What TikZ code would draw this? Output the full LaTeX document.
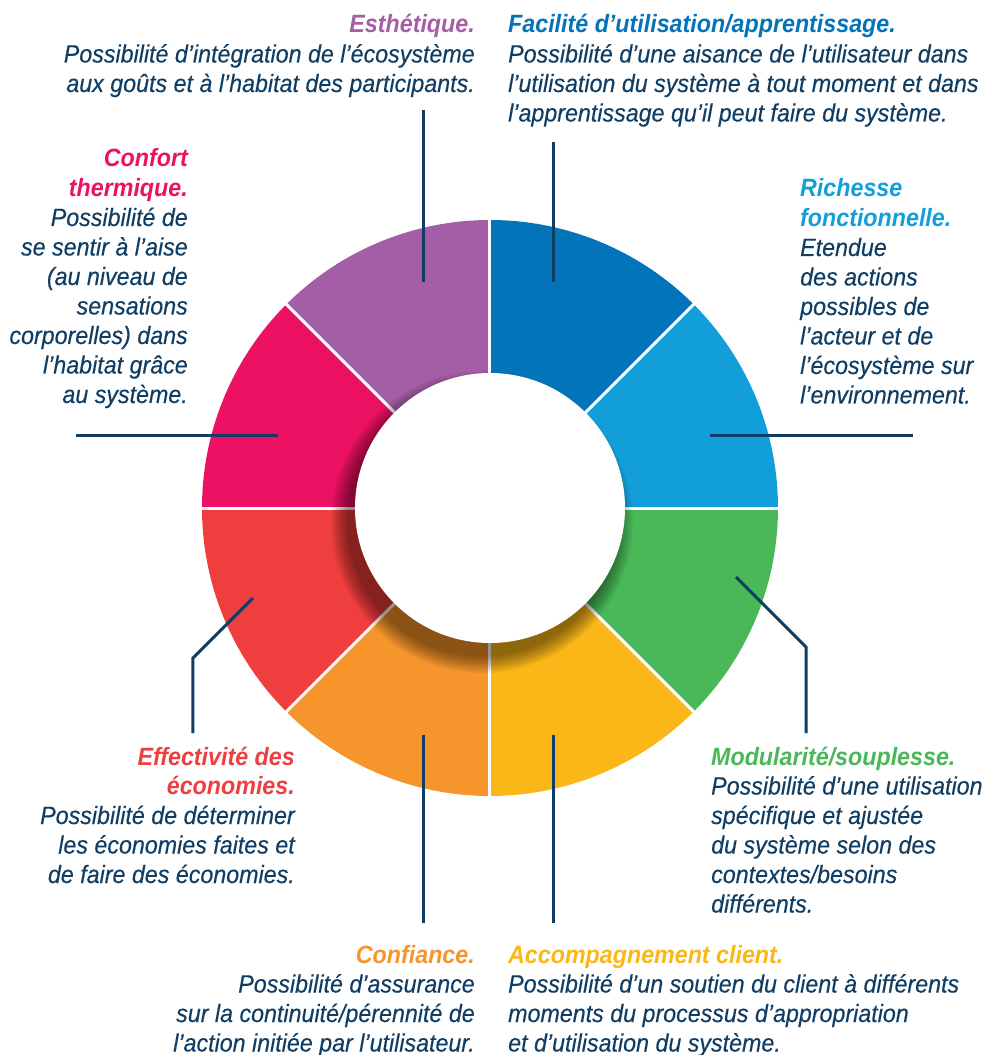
\documentclass[tikz,border=0pt]{standalone}
\usepackage{fontspec}
\setmainfont{Liberation Sans}[FakeStretch=0.93,ItalicFeatures={FakeBold=0.3}]
\definecolor{navy}{HTML}{0F3D63}
\definecolor{fblue}{HTML}{0373BA}
\definecolor{rblue}{HTML}{129FD9}
\definecolor{mgreen}{HTML}{4AB859}
\definecolor{ayellow}{HTML}{FBB617}
\definecolor{corange}{HTML}{F6952C}
\definecolor{ered}{HTML}{EE3F3E}
\definecolor{cpink}{HTML}{EC1162}
\definecolor{epurple}{HTML}{A45EA5}
\newcommand\segtitle[2]{{\bfseries\color{#1}#2}}
\begin{document}
\begin{tikzpicture}[x=1pt,y=1pt,
    lead/.style={line width=3pt,color=navy},
    txt/.style={inner sep=0pt,text=navy,font=\itshape\fontsize{25}{29.5}\selectfont}]
\useasboundingbox (-490,-547) rectangle (502,508);
% ring
\foreach \a/\c in {45/fblue,0/rblue,-45/mgreen,-90/ayellow,-135/corange,-180/ered,135/cpink,90/epurple}
  \fill[\c] (0,0) -- (\a:288) arc[start angle=\a,end angle=\a+45,radius=288] -- cycle;
\foreach \a in {0,45,...,315}
  \draw[white,line width=3pt] (0,0) -- (\a:290);
\begin{scope}
  \clip (0,0) circle[radius=288];
  \foreach \i in {1,...,12}
    \fill[black,opacity=0.045] (-8,-14) circle[radius=133+1.5*\i];
\end{scope}
\fill[white] (0,0) circle[radius=135];
% leaders
\coordinate (esth-in) at (-66,226);  \coordinate (esth-out) at (-66,398);
\coordinate (faci-in) at (64,226);   \coordinate (faci-out) at (64,366);
\coordinate (rich-in) at (220,72);   \coordinate (rich-out) at (423,72);
\coordinate (conf-in) at (-212,72);  \coordinate (conf-out) at (-414,72);
\coordinate (modu-in) at (246,-69);  \coordinate (modu-bend) at (316,-139);
\coordinate (modu-out) at (316,-225);
\coordinate (effe-in) at (-237,-90); \coordinate (effe-bend) at (-297,-150);
\coordinate (effe-out) at (-297,-225);
\coordinate (cnfi-in) at (-66,-227); \coordinate (cnfi-out) at (-66,-415);
\coordinate (acco-in) at (64,-227);  \coordinate (acco-out) at (64,-415);
\draw[lead] (esth-out) -- (esth-in);
\draw[lead] (faci-out) -- (faci-in);
\draw[lead] (rich-out) -- (rich-in);
\draw[lead] (conf-out) -- (conf-in);
\draw[lead] (modu-in) -- (modu-bend) -- (modu-out);
\draw[lead] (effe-in) -- (effe-bend) -- (effe-out);
\draw[lead] (cnfi-in) -- (cnfi-out);
\draw[lead] (acco-in) -- (acco-out);
% texts (base = last line)
\node[txt,anchor=base east,align=right] (esth) at (-15,416)
  {\segtitle{epurple}{Esthétique.}\\Possibilité d’intégration de l’écosystème\\aux goûts et à l’habitat des participants.};
\node[txt,anchor=base west,align=left] (faci) at (18,386.5)
  {\segtitle{fblue}{Facilité d’utilisation/apprentissage.}\\Possibilité d’une aisance de l’utilisateur dans\\l’utilisation du système à tout moment et dans\\l’apprentissage qu’il peut faire du système.};
\node[txt,anchor=base east,align=right] (conf) at (-302,105)
  {\segtitle{cpink}{Confort}\\\segtitle{cpink}{thermique.}\\Possibilité de\\se sentir à l’aise\\(au niveau de\\sensations\\corporelles) dans\\l’habitat grâce\\au système.};
\node[txt,anchor=base west,align=left] (rich) at (310,104.5)
  {\segtitle{rblue}{Richesse}\\\segtitle{rblue}{fonctionnelle.}\\Etendue\\des actions\\possibles de\\l’acteur et de\\l’écosystème sur\\l’environnement.};
\node[txt,anchor=base east,align=right] (effe) at (-195,-375)
  {\segtitle{ered}{Effectivité des}\\\segtitle{ered}{économies.}\\Possibilité de déterminer\\les économies faites et\\de faire des économies.};
\node[txt,anchor=base west,align=left] (modu) at (221,-404.5)
  {\segtitle{mgreen}{Modularité/souplesse.}\\Possibilité d’une utilisation\\spécifique et ajustée\\du système selon des\\contextes/besoins\\différents.};
\node[txt,anchor=base east,align=right] (cnfi) at (-15,-543.5)
  {\segtitle{corange}{Confiance.}\\Possibilité d’assurance\\sur la continuité/pérennité de\\l’action initiée par l’utilisateur.};
\node[txt,anchor=base west,align=left] (acco) at (18,-543.5)
  {\segtitle{ayellow}{Accompagnement client.}\\Possibilité d’un soutien du client à différents\\moments du processus d’appropriation\\et d’utilisation du système.};
\end{tikzpicture}
\end{document}
